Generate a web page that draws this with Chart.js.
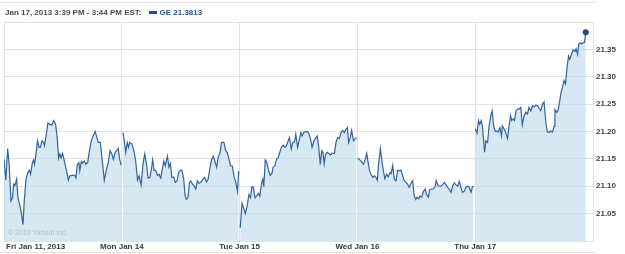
<!DOCTYPE html>
<html>
<head>
<meta charset="utf-8">
<script src="https://cdn.jsdelivr.net/npm/chart.js@4"></script>
<style>
  body { margin: 0; background: #fff; }
  #wrap { position: relative; width: 625px; height: 254px; }
  #head { position: absolute; left: 5px; top: 8px; font: bold 8px "Liberation Sans", Arial, sans-serif; color: #4d4d4d; white-space: nowrap; }
  #head .key { display: inline-block; width: 8px; height: 3px; background: #1f4f8a; margin: 0 3px 1px 7px; }
  #head .val { color: #1f5596; }
  .rule { position: absolute; left: 0; width: 596px; height: 1px; background: #e2e6ea; }
</style>
</head>
<body>
<div id="wrap">
  <div class="rule" style="top:2px"></div>
  <div id="head"><span id="stamp"></span><span class="key"></span><span class="val" id="quote"></span></div>
  <canvas id="priceChart" width="625" height="254"></canvas>
  <div class="rule" style="top:252px"></div>
</div>
<script>
// header texts
var stampText = 'Jan 17, 2013 3:39 PM - 3:44 PM EST:';
var quoteText = 'GE 21.3813';

// x axis labels, one per trading day
var dayLabels = ['Fri Jan 11, 2013', 'Mon Jan 14', 'Tue Jan 15', 'Wed Jan 16', 'Thu Jan 17'];
var minutesPerDay = 390;   // 9:30 to 16:00

// y axis
var yMin = 21.00, yMax = 21.40, yStep = 0.05;

// [minutes after open, price] for each day
var fri = [[0,21.149],[6,21.111],[12,21.169],[17,21.140],[23,21.073],[28,21.079],[32,21.104],[36,21.101],[42,21.113],[46,21.079],
  [53,21.064],[58,21.049],[63,21.030],[67,21.073],[73,21.113],[79,21.125],[84,21.129],[88,21.122],[94,21.143],[98,21.148],
  [101,21.140],[106,21.159],[111,21.183],[116,21.171],[120,21.171],[126,21.183],[131,21.180],[134,21.174],[141,21.198],[145,21.215],
  [152,21.213],[158,21.212],[165,21.220],[171,21.213],[176,21.189],[181,21.151],[185,21.159],[189,21.152],[194,21.160],[199,21.148],
  [207,21.128],[213,21.111],[218,21.119],[227,21.120],[234,21.120],[238,21.115],[243,21.140],[248,21.143],[251,21.128],[256,21.145],
  [260,21.142],[266,21.146],[271,21.140],[277,21.143],[282,21.162],[289,21.183],[295,21.192],[302,21.200],[306,21.192],[312,21.180],
  [319,21.180],[326,21.143],[332,21.111],[337,21.125],[345,21.143],[351,21.165],[357,21.159],[362,21.149],[368,21.162],[373,21.165],
  [378,21.169],[383,21.149],[388,21.138]];

var mon = [[4,21.198],[9,21.180],[13,21.162],[18,21.180],[22,21.171],[26,21.180],[33,21.178],[40,21.165],[46,21.146],[52,21.111],
  [57,21.119],[64,21.102],[70,21.140],[76,21.159],[82,21.140],[87,21.115],[93,21.116],[98,21.131],[102,21.148],[107,21.129],
  [112,21.129],[118,21.120],[123,21.122],[129,21.115],[133,21.128],[139,21.146],[144,21.137],[151,21.155],[156,21.135],[161,21.141],
  [166,21.116],[172,21.117],[177,21.107],[183,21.110],[188,21.125],[194,21.129],[199,21.129],[205,21.113],[209,21.085],[213,21.076],
  [219,21.079],[224,21.107],[228,21.110],[234,21.104],[239,21.101],[245,21.095],[250,21.110],[256,21.105],[261,21.107],[269,21.113],
  [274,21.116],[281,21.108],[286,21.113],[292,21.134],[297,21.148],[303,21.155],[308,21.146],[314,21.135],[320,21.155],[325,21.160],
  [330,21.180],[338,21.180],[344,21.165],[349,21.162],[355,21.149],[360,21.137],[366,21.137],[371,21.119],[377,21.108],[383,21.091],
  [387,21.128]];

var tue = [[2,21.024],[8,21.069],[13,21.061],[19,21.050],[25,21.064],[31,21.085],[36,21.079],[41,21.099],[45,21.099],[51,21.079],
  [56,21.082],[62,21.087],[67,21.082],[73,21.107],[77,21.113],[80,21.099],[85,21.148],[89,21.145],[96,21.129],[101,21.120],
  [107,21.123],[111,21.135],[117,21.137],[122,21.149],[128,21.152],[133,21.162],[139,21.172],[144,21.175],[150,21.171],[155,21.174],
  [161,21.183],[165,21.189],[171,21.168],[176,21.180],[182,21.181],[186,21.195],[192,21.171],[197,21.184],[203,21.198],[207,21.192],
  [212,21.198],[217,21.199],[223,21.200],[228,21.198],[235,21.186],[240,21.171],[246,21.183],[251,21.187],[257,21.192],[262,21.171],
  [267,21.140],[272,21.165],[276,21.162],[280,21.141],[284,21.157],[290,21.162],[295,21.160],[301,21.157],[306,21.160],[314,21.160],
  [319,21.180],[325,21.189],[330,21.187],[336,21.198],[341,21.202],[347,21.198],[352,21.204],[357,21.207],[361,21.180],[367,21.190],
  [371,21.202],[377,21.183],[383,21.187],[387,21.189]];

var wed = [[1,21.151],[7,21.149],[13,21.145],[20,21.140],[26,21.149],[31,21.160],[35,21.145],[40,21.129],[45,21.122],[51,21.116],
  [56,21.119],[62,21.116],[66,21.111],[70,21.140],[76,21.169],[82,21.143],[86,21.128],[91,21.114],[97,21.122],[102,21.117],
  [108,21.125],[112,21.123],[117,21.138],[122,21.113],[128,21.110],[133,21.129],[139,21.128],[145,21.129],[150,21.119],[155,21.110],
  [161,21.107],[166,21.104],[171,21.098],[177,21.105],[183,21.110],[188,21.082],[193,21.076],[197,21.080],[203,21.077],[207,21.082],
  [213,21.080],[218,21.090],[224,21.095],[229,21.085],[235,21.080],[239,21.093],[245,21.095],[251,21.095],[257,21.099],[261,21.110],
  [267,21.101],[271,21.100],[276,21.100],[282,21.103],[288,21.107],[293,21.103],[299,21.098],[304,21.095],[310,21.089],[315,21.100],
  [321,21.106],[326,21.103],[332,21.100],[337,21.109],[343,21.097],[348,21.089],[354,21.091],[360,21.099],[365,21.100],[370,21.098],
  [376,21.089],[381,21.099],[385,21.100]];

var thu = [[0,21.205],[6,21.197],[11,21.220],[15,21.213],[20,21.220],[24,21.210],[31,21.162],[35,21.183],[41,21.180],[46,21.210],
  [52,21.230],[56,21.238],[61,21.210],[66,21.200],[70,21.201],[76,21.199],[82,21.207],[87,21.192],[90,21.210],[96,21.204],
  [101,21.198],[107,21.187],[112,21.210],[117,21.229],[121,21.220],[126,21.223],[130,21.220],[135,21.238],[140,21.241],[145,21.241],
  [151,21.244],[156,21.212],[162,21.229],[168,21.235],[173,21.232],[178,21.244],[184,21.238],[190,21.247],[195,21.245],[201,21.248],
  [206,21.247],[212,21.242],[217,21.238],[223,21.250],[228,21.254],[234,21.216],[239,21.199],[245,21.199],[250,21.201],[256,21.199],
  [261,21.210],[264,21.240],[270,21.235],[274,21.238],[280,21.256],[284,21.271],[289,21.280],[294,21.293],[299,21.287],[304,21.317],
  [309,21.338],[313,21.332],[319,21.341],[324,21.349],[330,21.346],[334,21.351],[339,21.341],[343,21.360],[349,21.362],[353,21.360],
  [357,21.362],[362,21.363],[366,21.3813]];

document.getElementById('stamp').textContent = stampText;
document.getElementById('quote').textContent = quoteText;

// one series, with a break between trading days
var days = [fri, mon, tue, wed, thu];
var points = [];
days.forEach(function (day, d) {
    if (d > 0) points.push({ x: d * minutesPerDay - 0.5, y: null });
    day.forEach(function (p) {
        points.push({ x: d * minutesPerDay + p[0], y: p[1] });
    });
});
var lastIndex = points.length - 1;

var gridColor = '#dde3e9';
var labelFont = 'bold 8px "Liberation Sans", Arial, sans-serif';

// day labels under the plot and the copyright mark inside it
var extras = {
    id: 'extras',
    afterDatasetsDraw: function (chart) {
        var ctx = chart.ctx, area = chart.chartArea;
        ctx.save();
        ctx.font = '7px "Liberation Sans", Arial, sans-serif';
        ctx.fillStyle = 'rgba(130,150,172,0.55)';
        ctx.textBaseline = 'middle';
        ctx.fillText('\u00a9 2013 Yahoo! Inc.', area.left + 4, area.bottom - 8);
        ctx.restore();
    },
    afterDraw: function (chart) {
        var ctx = chart.ctx, xs = chart.scales.x, area = chart.chartArea;
        ctx.save();
        ctx.font = labelFont;
        ctx.fillStyle = '#3a3a3a';
        ctx.textBaseline = 'middle';
        dayLabels.forEach(function (label, i) {
            var px = xs.getPixelForValue(i * minutesPerDay);
            ctx.textAlign = i === 0 ? 'left' : 'center';
            ctx.fillText(label, i === 0 ? px + 2 : px, area.bottom + 6);
        });
        ctx.restore();
    }
};

new Chart(document.getElementById('priceChart').getContext('2d'), {
    type: 'line',
    data: {
        datasets: [{
            label: 'GE',
            data: points,
            borderColor: '#33639a',
            borderWidth: 1.2,
            backgroundColor: 'rgba(190,216,235,0.6)',
            fill: 'start',
            tension: 0,
            spanGaps: false,
            pointRadius: function (c) { return c.dataIndex === lastIndex ? 3 : 0; },
            pointBackgroundColor: '#1f4a80',
            pointBorderWidth: 0
        }]
    },
    options: {
        responsive: false,
        animation: false,
        layout: { padding: { top: 22, left: 3, bottom: 13, right: 0 } },
        plugins: { legend: { display: false }, tooltip: { enabled: false } },
        scales: {
            x: {
                type: 'linear',
                min: 0,
                max: dayLabels.length * minutesPerDay,
                ticks: { display: false, stepSize: minutesPerDay },
                grid: { color: gridColor, drawTicks: false },
                border: { display: false }
            },
            y: {
                position: 'right',
                min: yMin,
                max: yMax,
                afterFit: function (scale) { scale.width = 32; },
                ticks: {
                    stepSize: yStep,
                    padding: 3,
                    color: '#444',
                    font: { family: '"Liberation Sans", Arial, sans-serif', size: 8, weight: 'bold' },
                    callback: function (v) {
                        if (Math.abs(v - yMin) < 1e-6 || Math.abs(v - yMax) < 1e-6) return '';
                        return v.toFixed(2);
                    }
                },
                grid: { color: gridColor, drawTicks: false },
                border: { color: gridColor }
            }
        }
    },
    plugins: [extras]
});
</script>
</body>
</html>
